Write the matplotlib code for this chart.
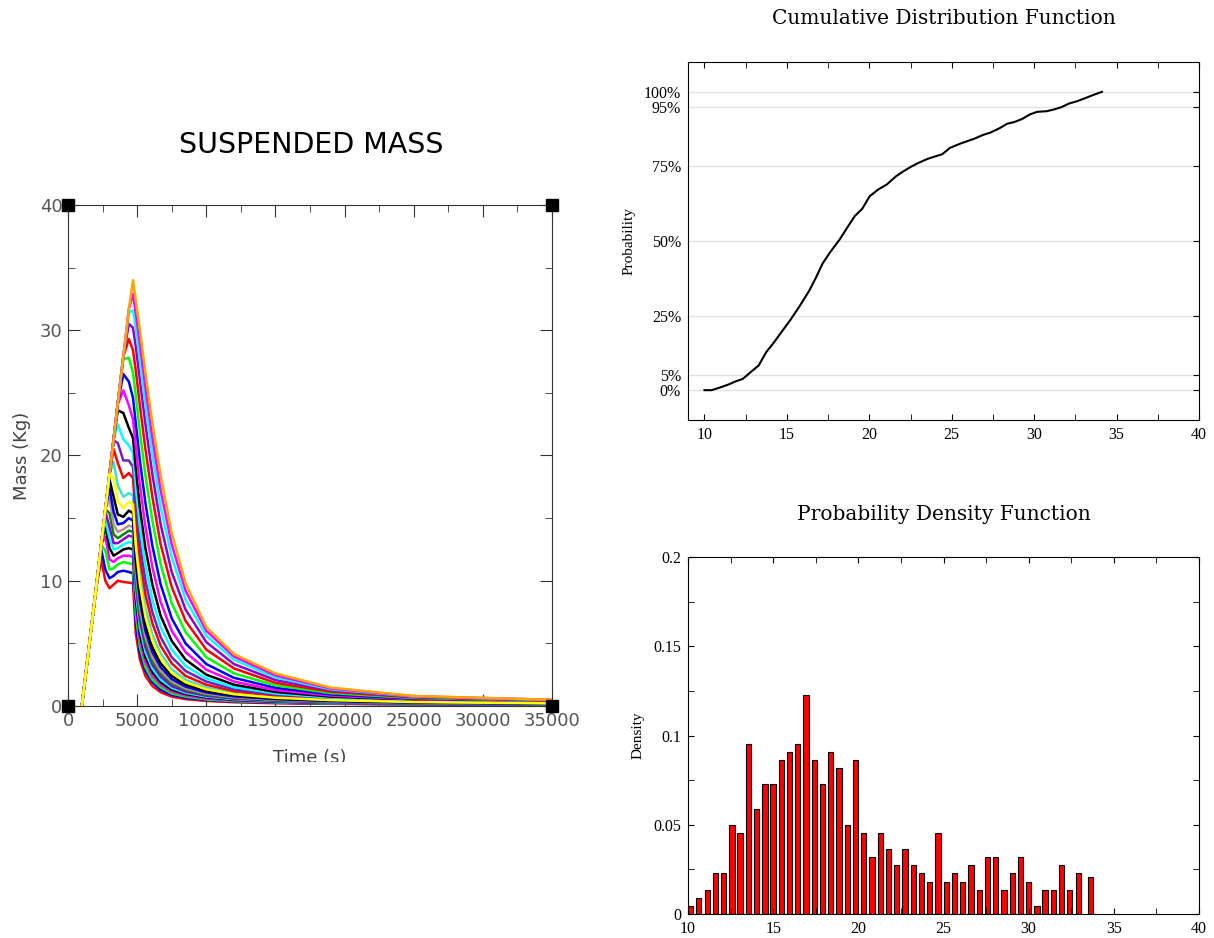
import numpy as np
import matplotlib
matplotlib.use('Agg')
import matplotlib.pyplot as plt
from matplotlib.ticker import MultipleLocator
from matplotlib.patches import Rectangle

# suspended mass runs: rising part and falling part, one row per run (low peak -> high peak)
t_rise = [1000, 2000, 2400, 2700, 3000, 3300, 3600, 4000, 4400]
t_fall = [4700, 4900, 5200, 5600, 6100, 6700, 7500, 8500, 10000, 12000, 15000, 19000, 25000, 35000]

mass_rise = [
    [0, 9.1, 11.7, 10.0, 9.4, 9.7, 10.0, 9.9, 9.85],
    [0, 9.1, 12.5, 10.9, 10.2, 10.4, 10.7, 10.8, 10.7],
    [0, 9.1, 12.9, 12.4, 10.9, 11.0, 11.3, 11.5, 11.4],
    [0, 9.1, 12.9, 13.5, 11.7, 11.5, 11.8, 12.0, 12.0],
    [0, 9.1, 12.9, 14.3, 12.6, 12.0, 12.2, 12.5, 12.6],
    [0, 9.1, 12.9, 14.9, 13.4, 12.5, 12.6, 12.9, 13.1],
    [0, 9.1, 12.9, 15.5, 14.3, 13.0, 13.0, 13.3, 13.6],
    [0, 9.1, 12.9, 15.7, 15.4, 13.7, 13.4, 13.7, 14.0],
    [0, 9.1, 12.9, 15.7, 16.6, 14.5, 13.9, 14.1, 14.4],
    [0, 9.1, 12.9, 15.7, 17.4, 15.5, 14.5, 14.6, 15.0],
    [0, 9.1, 12.9, 15.7, 18.1, 16.7, 15.3, 15.1, 15.6],
    [0, 9.1, 12.9, 15.7, 18.5, 18.2, 16.3, 15.8, 16.3],
    [0, 9.1, 12.9, 15.7, 18.5, 19.5, 17.6, 16.7, 17.0],
    [0, 9.1, 12.9, 15.7, 18.5, 20.5, 19.4, 18.2, 18.6],
    [0, 9.1, 12.9, 15.7, 18.5, 21.2, 21.0, 19.6, 19.6],
    [0, 9.1, 12.9, 15.7, 18.5, 21.3, 22.5, 21.3, 20.8],
    [0, 9.1, 12.9, 15.7, 18.5, 21.3, 23.6, 23.4, 22.2],
    [0, 9.1, 12.9, 15.7, 18.5, 21.3, 24.1, 25.2, 24.0],
    [0, 9.1, 12.9, 15.7, 18.5, 21.3, 24.2, 26.5, 25.9],
    [0, 9.1, 12.9, 15.7, 18.5, 21.3, 24.2, 27.7, 27.8],
    [0, 9.1, 12.9, 15.7, 18.5, 21.3, 24.2, 27.9, 29.3],
    [0, 9.1, 12.9, 15.7, 18.5, 21.3, 24.2, 27.9, 30.5],
    [0, 9.1, 12.9, 15.7, 18.5, 21.3, 24.2, 27.9, 31.4],
    [0, 9.1, 12.9, 15.7, 18.5, 21.3, 24.2, 27.9, 31.7],
    [0, 9.1, 12.9, 15.7, 18.5, 21.3, 24.2, 27.9, 31.7],
]

mass_fall = [
    [9.8, 5.8, 3.7, 2.4, 1.6, 1.1, 0.75, 0.55, 0.40, 0.30, 0.22, 0.17, 0.12, 0.08],
    [10.6, 6.6, 4.2, 2.8, 1.9, 1.3, 0.90, 0.65, 0.47, 0.35, 0.26, 0.19, 0.14, 0.09],
    [11.3, 7.3, 4.7, 3.1, 2.1, 1.5, 1.0, 0.75, 0.53, 0.39, 0.29, 0.21, 0.15, 0.10],
    [11.9, 8.0, 5.2, 3.5, 2.4, 1.7, 1.15, 0.85, 0.60, 0.44, 0.32, 0.23, 0.17, 0.11],
    [12.5, 8.6, 5.7, 3.9, 2.7, 1.9, 1.3, 0.95, 0.68, 0.49, 0.35, 0.26, 0.18, 0.12],
    [13.0, 9.2, 6.2, 4.3, 3.0, 2.1, 1.45, 1.05, 0.75, 0.54, 0.39, 0.28, 0.20, 0.13],
    [13.5, 9.8, 6.8, 4.7, 3.3, 2.35, 1.6, 1.15, 0.82, 0.59, 0.42, 0.30, 0.21, 0.14],
    [13.9, 10.3, 7.3, 5.1, 3.6, 2.6, 1.8, 1.3, 0.90, 0.65, 0.46, 0.33, 0.23, 0.15],
    [14.3, 10.8, 7.8, 5.5, 3.9, 2.8, 1.95, 1.4, 0.98, 0.70, 0.50, 0.36, 0.25, 0.16],
    [14.8, 11.4, 8.4, 6.0, 4.3, 3.1, 2.15, 1.55, 1.08, 0.77, 0.55, 0.39, 0.27, 0.18],
    [15.4, 12.0, 9.0, 6.5, 4.7, 3.4, 2.4, 1.7, 1.2, 0.85, 0.60, 0.43, 0.30, 0.19],
    [16.1, 12.8, 9.7, 7.1, 5.2, 3.8, 2.65, 1.9, 1.33, 0.94, 0.66, 0.47, 0.32, 0.21],
    [16.8, 13.6, 10.5, 7.8, 5.7, 4.2, 2.95, 2.1, 1.48, 1.04, 0.72, 0.51, 0.35, 0.23],
    [18.2, 15.0, 11.8, 8.9, 6.6, 4.8, 3.4, 2.4, 1.7, 1.18, 0.80, 0.56, 0.38, 0.25],
    [19.1, 16.2, 13.0, 10.0, 7.5, 5.5, 3.9, 2.8, 1.95, 1.33, 0.90, 0.62, 0.42, 0.27],
    [20.2, 17.5, 14.3, 11.2, 8.5, 6.3, 4.5, 3.2, 2.2, 1.5, 1.0, 0.68, 0.46, 0.29],
    [21.4, 19.0, 15.8, 12.6, 9.7, 7.2, 5.2, 3.7, 2.5, 1.7, 1.12, 0.75, 0.50, 0.31],
    [22.9, 20.7, 17.6, 14.3, 11.1, 8.3, 6.0, 4.3, 2.9, 1.95, 1.27, 0.83, 0.54, 0.34],
    [24.6, 22.6, 19.6, 16.2, 12.8, 9.7, 7.0, 5.0, 3.35, 2.25, 1.45, 0.93, 0.59, 0.37],
    [26.6, 24.8, 21.9, 18.4, 14.8, 11.3, 8.2, 5.9, 3.9, 2.6, 1.65, 1.03, 0.64, 0.40],
    [28.4, 26.8, 24.0, 20.5, 16.7, 12.9, 9.5, 6.8, 4.5, 3.0, 1.85, 1.14, 0.69, 0.42],
    [30.2, 28.7, 26.0, 22.5, 18.5, 14.5, 10.7, 7.7, 5.1, 3.35, 2.07, 1.25, 0.73, 0.45],
    [31.6, 30.2, 27.6, 24.1, 20.1, 15.9, 11.9, 8.5, 5.6, 3.7, 2.28, 1.33, 0.76, 0.47],
    [32.9, 31.4, 28.9, 25.4, 21.4, 17.2, 12.9, 9.2, 6.0, 3.95, 2.45, 1.40, 0.78, 0.49],
    [34.0, 32.4, 30.0, 26.6, 22.6, 18.4, 13.8, 9.8, 6.3, 4.15, 2.6, 1.47, 0.80, 0.50],
]

run_colors = ['red', 'blue', '#00ff00', 'magenta', 'black', 'cyan', '#9400d3', '#008b00',
              '#bc8f8f', 'blue', 'black', 'yellow', '#40e0d0', 'red', '#7221bc', 'cyan',
              'black', 'magenta', 'blue', '#00ff00', 'red', '#9400d3', 'cyan', 'magenta', 'orange']

# cumulative distribution of peak mass
cdf_x = [10.0, 10.43, 10.89, 11.46, 11.87, 12.33, 12.79, 13.29, 13.74, 14.2, 14.66, 15.23,
         15.8, 16.37, 16.76, 17.17, 17.63, 18.2, 18.65, 19.11, 19.57, 20.02, 20.55, 21.05,
         21.62, 22.08, 22.53, 22.99, 23.52, 24.02, 24.43, 24.89, 25.5, 25.96, 26.42, 26.87,
         27.33, 27.9, 28.36, 28.81, 29.27, 29.73, 30.18, 30.75, 31.21, 31.67, 32.12, 32.58,
         33.15, 33.61, 34.11]
cdf_p = [0.0, 0.0, 0.008, 0.019, 0.029, 0.038, 0.06, 0.083, 0.127, 0.159, 0.194, 0.237,
         0.284, 0.335, 0.377, 0.425, 0.463, 0.505, 0.544, 0.583, 0.608, 0.65, 0.673, 0.689,
         0.717, 0.734, 0.749, 0.762, 0.775, 0.784, 0.791, 0.812, 0.826, 0.835, 0.844, 0.855,
         0.863, 0.878, 0.893, 0.899, 0.909, 0.924, 0.933, 0.935, 0.941, 0.949, 0.961, 0.968,
         0.98, 0.99, 1.0]
prob_ticks = [0, 0.05, 0.25, 0.5, 0.75, 0.95, 1.0]
prob_labels = ['0%', '5%', '25%', '50%', '75%', '95%', '100%']

# probability density histogram (bin left edges)
pdf_x = [10.00, 10.48, 10.97, 11.45, 11.94, 12.42, 12.90, 13.39, 13.87, 14.36, 14.84, 15.32,
         15.81, 16.29, 16.78, 17.26, 17.74, 18.23, 18.71, 19.20, 19.68, 20.16, 20.65, 21.13,
         21.62, 22.10, 22.58, 23.07, 23.55, 24.04, 24.52, 25.00, 25.49, 25.97, 26.46, 26.94,
         27.42, 27.91, 28.39, 28.88, 29.36, 29.84, 30.33, 30.81, 31.30, 31.78, 32.26, 32.75,
         33.47]
pdf_density = [0.0045, 0.0091, 0.0136, 0.0227, 0.0227, 0.0500, 0.0455, 0.0955, 0.0591, 0.0727,
               0.0727, 0.0864, 0.0909, 0.0955, 0.1227, 0.0864, 0.0727, 0.0909, 0.0818, 0.0500,
               0.0864, 0.0455, 0.0318, 0.0455, 0.0364, 0.0273, 0.0364, 0.0273, 0.0227, 0.0182,
               0.0455, 0.0182, 0.0227, 0.0182, 0.0273, 0.0136, 0.0318, 0.0318, 0.0136, 0.0227,
               0.0318, 0.0182, 0.0045, 0.0136, 0.0136, 0.0273, 0.0136, 0.0227, 0.0205]

W, H = 1214, 938
fig = plt.figure(figsize=(W / 100, H / 100), dpi=100)

def box(l, r, t, b):
    return [l / W, 1 - b / H, (r - l) / W, (b - t) / H]

# ---- left: suspended mass ----
ax = fig.add_axes(box(68, 552, 205, 706))
time = t_rise + t_fall
for i in range(len(mass_rise)):
    z = 3 if run_colors[i] == 'yellow' else 2
    ax.plot(time, mass_rise[i] + mass_fall[i], color=run_colors[i], lw=1.8, zorder=z)
ax.set_xlim(0, 35000)
ax.set_ylim(0, 40)
ax.xaxis.set_major_locator(MultipleLocator(5000))
ax.xaxis.set_minor_locator(MultipleLocator(2500))
ax.yaxis.set_major_locator(MultipleLocator(10))
ax.yaxis.set_minor_locator(MultipleLocator(5))
ax.tick_params(which='both', direction='in', top=True, right=True, color='#333333',
               labelcolor='#555555', labelsize=13, pad=4)
ax.tick_params(which='major', length=8.5)
ax.tick_params(which='minor', length=5)
for s in ax.spines.values():
    s.set_color('#333333')
ax.plot([0, 0, 35000, 35000], [0, 40, 0, 40], 's', color='black', ms=9, clip_on=False, zorder=5)
ax.set_xlabel('Time (s)', fontsize=13, color='#444444', labelpad=14)
ax.set_ylabel('Mass (Kg)', fontsize=13, color='#444444', labelpad=6)
fig.text(311 / W, 1 - 145 / H, 'SUSPENDED MASS', ha='center', va='center', fontsize=20.5)
# the source image is cut off just under the axis label
fig.patches.append(Rectangle((0, 0), 605 / W, (H - 762) / H, transform=fig.transFigure,
                             facecolor='white', edgecolor='none', zorder=10))

serif = ['Liberation Serif', 'DejaVu Serif']

# ---- top right: CDF ----
ax2 = fig.add_axes(box(688, 1199, 62, 420))
for p in prob_ticks:
    ax2.axhline(p, color='#e2e2e2', lw=1, zorder=0)
ax2.plot(cdf_x, cdf_p, color='black', lw=1.5)
ax2.set_xlim(9, 40)
ax2.set_ylim(-0.1, 1.1)
ax2.set_yticks(prob_ticks)
ax2.set_yticklabels(prob_labels)
ax2.xaxis.set_major_locator(MultipleLocator(5))
ax2.xaxis.set_minor_locator(MultipleLocator(2.5))
ax2.tick_params(which='both', direction='in', top=True, left=False, right=True,
                length=4.5, labelsize=11.5, pad=5)
ax2.set_ylabel('Probability', fontsize=11, family=serif, labelpad=6)
for lab in ax2.get_xticklabels() + ax2.get_yticklabels():
    lab.set_family(serif)
fig.text(944 / W, 1 - 19 / H, 'Cumulative Distribution Function', ha='center', va='center',
         fontsize=14.5, family='DejaVu Serif')

# ---- bottom right: PDF ----
ax3 = fig.add_axes(box(688, 1199, 557, 914))
ax3.bar(pdf_x, pdf_density, width=0.31, align='edge', color='red', edgecolor='black', lw=0.8)
ax3.set_xlim(10, 40)
ax3.set_ylim(0, 0.2)
ax3.set_yticks([0, 0.05, 0.1, 0.15, 0.2])
ax3.set_yticklabels(['0', '0.05', '0.1', '0.15', '0.2'])
ax3.yaxis.set_minor_locator(MultipleLocator(0.025))
ax3.xaxis.set_major_locator(MultipleLocator(5))
ax3.xaxis.set_minor_locator(MultipleLocator(2.5))
ax3.tick_params(which='both', direction='in', top=True, right=True,
                length=4.5, labelsize=11.5, pad=5)
ax3.set_ylabel('Density', fontsize=11, family=serif, labelpad=6)
for lab in ax3.get_xticklabels() + ax3.get_yticklabels():
    lab.set_family(serif)
fig.text(944 / W, 1 - 514 / H, 'Probability Density Function', ha='center', va='center',
         fontsize=14.5, family='DejaVu Serif')

fig.savefig('out.png', dpi=100)
